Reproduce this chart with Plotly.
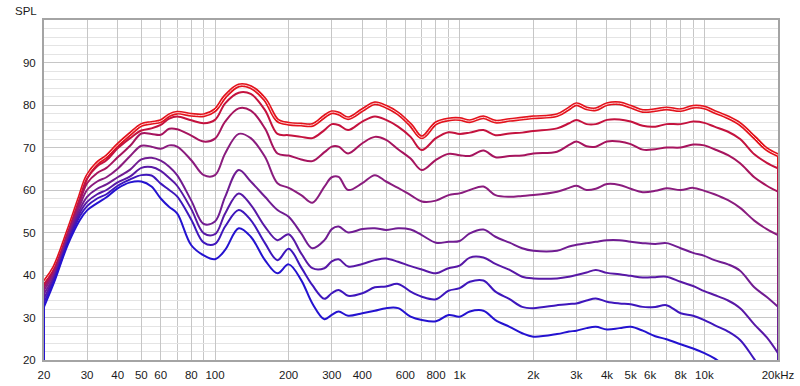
import math
import plotly.graph_objects as go

FREQ = [20, 22, 25, 28, 30, 33, 36, 40, 45, 50, 55, 60, 65, 70, 80, 90, 100, 110, 125, 140,
        160, 180, 200, 225, 250, 280, 300, 320, 350, 400, 450, 500, 560, 630, 700, 800, 900, 1000, 1100, 1250,
        1400, 1600, 1800, 2000, 2500, 2800, 3000, 3300, 3600, 4000, 4500, 5000, 5600, 6300, 7000, 8000, 9000, 10000, 11000, 12500,
        14000, 16000, 18000, 20000]

SPL_A = [38.3, 41.8, 50.2, 58.4, 63.2, 66.3, 67.9, 70.6, 73.2, 75.3, 75.8, 76.2, 77.6, 78.2, 77.7, 77.6, 78.8, 82.0, 84.6, 84.2,
         81.3, 76.4, 75.6, 75.4, 75.3, 77.3, 78.3, 78.0, 76.9, 78.8, 80.4, 79.6, 78.0, 75.3, 72.4, 75.7, 76.6, 76.7, 76.2, 77.1,
         76.1, 76.5, 76.8, 77.1, 77.6, 79.2, 80.2, 79.2, 79.0, 80.2, 80.4, 79.6, 78.6, 78.8, 79.2, 78.8, 79.6, 79.4, 78.4, 77.1,
         75.5, 72.4, 69.6, 68.2]
SPL_B = [37.8, 41.4, 49.9, 58.0, 62.7, 65.6, 67.0, 69.8, 72.2, 74.0, 74.5, 75.3, 76.8, 77.3, 76.4, 75.7, 76.5, 80.4, 82.9, 82.6,
         78.8, 73.2, 72.9, 72.5, 72.2, 74.1, 75.5, 75.3, 74.1, 76.1, 77.3, 76.5, 74.9, 72.5, 69.4, 72.2, 73.6, 73.2, 73.5, 74.1,
         72.9, 73.3, 73.5, 73.9, 74.5, 75.7, 76.5, 75.5, 75.5, 76.5, 76.6, 76.1, 75.1, 74.9, 75.5, 75.5, 76.1, 75.8, 74.9, 73.7,
         72.0, 68.4, 66.4, 65.1]
SPL_C = [37.2, 40.9, 49.5, 57.2, 61.6, 64.0, 65.2, 67.7, 70.4, 73.3, 73.2, 73.0, 74.4, 74.3, 72.8, 71.4, 72.1, 76.1, 79.2, 78.7,
         74.5, 68.6, 68.1, 67.2, 66.8, 68.9, 70.2, 70.2, 68.6, 71.0, 72.5, 71.8, 69.6, 67.4, 64.7, 67.1, 68.5, 68.2, 68.0, 69.3,
         67.7, 68.0, 68.1, 68.6, 69.0, 70.6, 71.4, 70.3, 70.2, 71.4, 71.4, 70.8, 69.5, 69.6, 70.0, 70.0, 70.7, 70.5, 69.6, 68.2,
         66.3, 63.0, 61.0, 59.6]
SPL_D = [36.5, 40.4, 49.0, 56.3, 60.0, 62.0, 63.0, 65.0, 68.0, 70.4, 70.2, 69.7, 70.5, 70.2, 67.0, 63.5, 63.5, 68.6, 73.2, 72.2,
         67.8, 61.6, 60.5, 58.8, 57.0, 60.8, 63.0, 63.1, 60.0, 61.6, 63.5, 62.0, 60.5, 58.8, 57.3, 57.5, 58.8, 59.2, 60.0, 60.8,
         58.8, 58.4, 58.6, 58.8, 59.6, 60.5, 61.0, 60.0, 60.3, 61.4, 61.2, 60.3, 59.5, 59.8, 60.4, 60.0, 60.5, 59.8, 59.0, 57.6,
         55.8, 52.8, 50.8, 49.4]
SPL_E = [35.6, 39.8, 48.5, 55.4, 58.4, 60.3, 61.3, 63.0, 64.8, 67.2, 67.6, 66.9, 65.5, 63.5, 57.5, 52.0, 52.6, 58.4, 64.7, 62.0,
         58.4, 55.3, 53.7, 49.8, 46.3, 48.2, 50.8, 51.4, 50.0, 50.8, 51.0, 50.6, 51.0, 50.7, 49.4, 47.6, 47.8, 48.0, 49.8, 50.7,
         49.0, 47.6, 46.3, 45.7, 45.7, 46.7, 47.1, 47.5, 47.8, 48.2, 48.2, 47.8, 47.5, 47.3, 47.5, 46.3, 45.2, 44.5, 43.5, 42.5,
         41.0, 37.1, 34.8, 32.5]
SPL_F = [34.6, 39.3, 48.0, 54.6, 57.2, 59.0, 60.0, 61.8, 63.2, 65.2, 65.4, 64.5, 62.8, 61.0, 55.5, 49.8, 49.6, 54.5, 59.2, 56.5,
         51.4, 48.2, 49.6, 45.1, 41.6, 41.6, 43.2, 43.7, 42.0, 42.6, 43.5, 43.9, 43.1, 42.1, 41.3, 40.4, 41.6, 42.2, 44.1, 44.1,
         42.6, 41.2, 39.6, 39.2, 39.2, 39.6, 40.0, 40.6, 41.2, 40.5, 40.2, 39.8, 39.4, 39.5, 39.6, 38.4, 37.4, 36.2, 35.3, 34.0,
         32.2, 28.4, 25.3, 21.6]
SPL_G = [33.6, 38.8, 47.6, 53.8, 56.2, 58.0, 59.0, 61.0, 62.5, 63.5, 63.4, 61.5, 60.0, 58.5, 53.0, 47.6, 47.3, 51.4, 55.3, 52.9,
         47.5, 43.5, 46.2, 41.8, 37.6, 34.4, 35.7, 36.5, 35.1, 35.7, 37.1, 37.3, 37.9, 36.1, 34.9, 34.3, 36.3, 36.9, 38.4, 38.7,
         36.1, 34.3, 32.5, 32.2, 32.9, 33.2, 33.3, 34.0, 34.5, 33.7, 33.3, 33.1, 32.5, 32.5, 32.9, 31.0, 30.4, 29.4, 28.2, 26.7,
         24.7, 20.2, 16.0, 12.0]
SPL_H = [32.5, 38.3, 47.1, 52.9, 55.2, 56.9, 58.3, 60.4, 61.8, 62.0, 60.8, 58.0, 56.0, 54.5, 47.0, 44.6, 43.7, 45.9, 51.0, 49.0,
         43.5, 40.4, 42.5, 38.8, 33.3, 29.6, 30.6, 31.4, 30.4, 31.0, 31.6, 32.2, 32.2, 30.2, 29.4, 29.1, 30.6, 30.2, 31.4, 31.6,
         29.4, 27.8, 26.3, 25.5, 26.1, 26.7, 26.9, 27.5, 27.8, 27.2, 27.5, 27.8, 26.9, 25.6, 24.9, 23.7, 22.7, 21.6, 20.4, 18.0,
         16.0, 13.0, 10.0, 7.0]

CURVES = [SPL_A, SPL_B, SPL_C, SPL_D, SPL_E, SPL_F, SPL_G, SPL_H]
COLORS = ['#e2121c', '#c4123e', '#a6145e', '#8a1c7e', '#701c92', '#5818a6', '#3e16bc', '#2412d0']

X_TICKS = [20, 30, 40, 50, 60, 80, 100, 200, 300, 400, 600, 800, 1000, 2000, 3000, 4000, 5000, 6000, 8000, 10000, 20000]
X_LABELS = ['20', '30', '40', '50', '60', '80', '100', '200', '300', '400', '600', '800', '1k',
            '2k', '3k', '4k', '5k', '6k', '8k', '10k', '20kHz']
X_MINOR = [70, 90, 500, 700, 900, 7000, 9000]
DECADES = [100, 1000, 10000]
Y_TICKS = [20, 30, 40, 50, 60, 70, 80, 90]
Y_MIN, Y_MAX = 20, 100
F_MIN, F_MAX = 20, 20000

fig = go.Figure()

for i, (vals, col) in enumerate(zip(CURVES, COLORS)):
    # end drop lines (trace falls to the floor at both ends)
    for f, v in ((FREQ[0], vals[0]), (FREQ[-1], vals[-1])):
        fig.add_trace(go.Scatter(x=[f, f], y=[Y_MIN - 5, v], mode='lines',
                                 line=dict(color=col, width=2), hoverinfo='skip'))
    if i == 0:
        fig.add_trace(go.Scatter(x=FREQ, y=vals, mode='lines',
                                 line=dict(color=col, width=4, shape='spline'), hoverinfo='skip'))
        fig.add_trace(go.Scatter(x=FREQ, y=vals, mode='lines',
                                 line=dict(color='#ffd2d2', width=1, shape='spline'), hoverinfo='skip'))
    else:
        fig.add_trace(go.Scatter(x=FREQ, y=vals, mode='lines',
                                 line=dict(color=col, width=2, shape='spline'), hoverinfo='skip'))

shapes = []
for d in DECADES:
    shapes.append(dict(type='line', xref='x', yref='paper', x0=math.log10(d), x1=math.log10(d),
                       y0=0, y1=1, line=dict(color='#8e8e8e', width=1), layer='between'))

fig.update_layout(
    width=800, height=386,
    margin=dict(l=44, r=22, t=20, b=26, autoexpand=False),
    paper_bgcolor='white', plot_bgcolor='white',
    showlegend=False,
    font=dict(family='Liberation Sans, Arial, sans-serif', size=11.5, color='#1a1a1a'),
    shapes=shapes,
    annotations=[dict(text='SPL', xref='paper', yref='paper', x=0, y=1, xanchor='right', yanchor='bottom',
                      xshift=-5, yshift=1, showarrow=False, font=dict(size=11.5, color='#1a1a1a'))],
)
fig.update_xaxes(type='log', range=[math.log10(F_MIN), math.log10(F_MAX)], automargin=False,
                 tickvals=X_TICKS, ticktext=X_LABELS, showgrid=True, gridcolor='#c6c6c6', gridwidth=1,
                 minor=dict(tickvals=X_MINOR, showgrid=True, gridcolor='#c6c6c6', ticks=''),
                 ticks='', zeroline=False, showline=True, linecolor='#a4a4a4', linewidth=2, mirror=True,
                 ticklabelstandoff=3)
fig.update_yaxes(range=[Y_MIN, Y_MAX], tickvals=Y_TICKS, showgrid=True, gridcolor='#c6c6c6', gridwidth=1,
                 automargin=False,
                 minor=dict(dtick=2, showgrid=True, gridcolor='#e4e4e4', ticks=''),
                 ticks='', zeroline=False, showline=True, linecolor='#a4a4a4', linewidth=2, mirror=True,
                 ticklabelstandoff=4)

fig.write_html('out.html', config={'displayModeBar': False},
               post_script="document.body.style.margin='0px';document.body.style.padding='0px';")
